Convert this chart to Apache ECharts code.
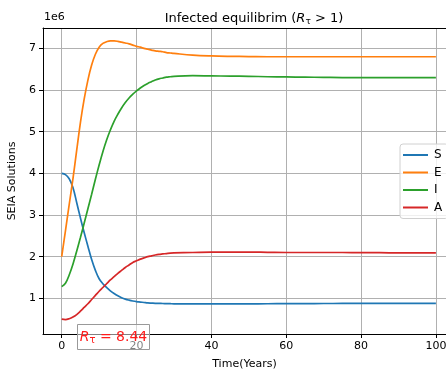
<!DOCTYPE html>
<html>
<head>
<meta charset="utf-8">
<script src="https://cdn.jsdelivr.net/npm/echarts@6/dist/echarts.min.js"></script>
<style>
  html, body { margin: 0; padding: 0; background: #fff; }
  #chart { width: 446px; height: 371px; }
</style>
</head>
<body>
<div id="chart"></div>
<script>
// time in years, values in units of 1e6
const years = [0, 1, 2, 3, 4, 5, 6, 7, 8, 9, 10, 11, 12, 13, 14, 15, 16, 17, 18, 19, 20,
  21, 22, 23, 24, 25, 26, 27, 28, 29, 30, 35, 40, 45, 50, 55, 60, 65, 70, 75, 80, 85, 90, 95, 100]

const sVals = [4.0, 3.97, 3.87, 3.66, 3.3, 2.93, 2.58, 2.25, 1.93, 1.67, 1.47, 1.35, 1.26, 1.18, 1.115,
  1.06, 1.015, 0.98, 0.955, 0.935, 0.92, 0.91, 0.9, 0.89, 0.885, 0.88, 0.878, 0.875, 0.872, 0.87, 0.868,
  0.865, 0.865, 0.866, 0.867, 0.869, 0.871, 0.873, 0.875, 0.876, 0.877, 0.878, 0.878, 0.879, 0.879]
const eVals = [2.0, 2.62, 3.25, 3.87, 4.55, 5.22, 5.78, 6.24, 6.6, 6.86, 7.03, 7.12, 7.16, 7.18, 7.18,
  7.17, 7.15, 7.13, 7.11, 7.08, 7.05, 7.03, 7.0, 6.98, 6.96, 6.94, 6.93, 6.92, 6.9, 6.89, 6.88,
  6.84, 6.82, 6.81, 6.805, 6.8, 6.8, 6.8, 6.8, 6.8, 6.8, 6.8, 6.8, 6.8, 6.8]
const iVals = [1.28, 1.36, 1.56, 1.82, 2.13, 2.46, 2.8, 3.15, 3.5, 3.86, 4.2, 4.52, 4.8, 5.04, 5.25,
  5.42, 5.57, 5.7, 5.81, 5.9, 5.98, 6.05, 6.11, 6.16, 6.2, 6.24, 6.27, 6.29, 6.31, 6.32, 6.33,
  6.345, 6.34, 6.335, 6.33, 6.32, 6.315, 6.31, 6.305, 6.3, 6.3, 6.3, 6.3, 6.3, 6.3]
const aVals = [0.5, 0.49, 0.51, 0.55, 0.61, 0.69, 0.78, 0.87, 0.97, 1.07, 1.17, 1.26, 1.35, 1.44, 1.52,
  1.6, 1.67, 1.74, 1.8, 1.86, 1.9, 1.94, 1.97, 2.0, 2.02, 2.04, 2.055, 2.065, 2.075, 2.085, 2.09,
  2.1, 2.11, 2.11, 2.11, 2.105, 2.1, 2.1, 2.1, 2.1, 2.095, 2.095, 2.09, 2.09, 2.09]

const seriesNames = ['S', 'E', 'I', 'A']
const seriesColors = ['#1f77b4', '#ff7f0e', '#2ca02c', '#d62728']
const xTicks = [0, 20, 40, 60, 80, 100]
const yTicks = [1, 2, 3, 4, 5, 6, 7]

const FONT = 'DejaVu Sans'

const chart = echarts.init(document.getElementById('chart'))

const allVals = [sVals, eVals, iVals, aVals]
const series = allVals.map((vals, k) => ({
  name: seriesNames[k],
  type: 'line',
  data: years.map((t, i) => [t, vals[i]]),
  showSymbol: false,
  smooth: 0.4,
  lineStyle: { color: seriesColors[k], width: 1.7 },
  itemStyle: { color: seriesColors[k] },
  z: 3
}))

// plain axis used only for the top spine
const topSpine = {
  type: 'value',
  position: 'top',
  min: -5,
  max: 102.7,
  axisLine: { show: true, onZero: false, lineStyle: { color: '#000', width: 1 } },
  axisTick: { show: false },
  axisLabel: { show: false },
  splitLine: { show: false }
}

chart.setOption({
  animation: false,
  textStyle: { fontFamily: FONT },
  title: {
    text: 'Infected equilibrim ({i|R}{s|τ} > 1)',
    left: 249,
    textAlign: 'center',
    top: 6,
    textStyle: {
      fontFamily: FONT,
      fontSize: 13,
      fontWeight: 'normal',
      color: '#000',
      rich: {
        i: { fontFamily: FONT, fontSize: 13, fontStyle: 'italic', color: '#000' },
        s: { fontFamily: FONT, fontSize: 9, color: '#000', padding: [6, 0, 0, 0] }
      }
    }
  },
  grid: {
    left: 43,
    top: 28,
    right: 0,
    bottom: 37,
    outerBoundsMode: 'none'
  },
  legend: {
    orient: 'vertical',
    left: 400,
    top: 144,
    padding: [4, 6, 4, 3],
    itemGap: 3.5,
    itemWidth: 25,
    itemHeight: 2,
    icon: 'rect',
    backgroundColor: 'rgba(255,255,255,0.8)',
    borderColor: '#d0d0d0',
    borderWidth: 1,
    borderRadius: 3,
    data: seriesNames,
    textStyle: { fontFamily: FONT, fontSize: 12, color: '#000', lineHeight: 14, padding: [0, 0, 0, 1] }
  },
  xAxis: [{
    type: 'value',
    min: -5,
    max: 102.7,
    name: 'Time(Years)',
    nameLocation: 'middle',
    nameGap: 25,
    nameTextStyle: { fontFamily: FONT, fontSize: 11, color: '#000' },
    axisLine: { show: true, onZero: false, lineStyle: { color: '#000', width: 1 } },
    axisTick: { show: true, length: 4, lineStyle: { color: '#000' }, customValues: xTicks },
    axisLabel: { customValues: xTicks, color: '#000', fontSize: 11, margin: 7, fontFamily: FONT },
    splitLine: { show: true, lineStyle: { color: '#b0b0b0', width: 1 } }
  }, topSpine],
  yAxis: {
    type: 'value',
    min: 0.143,
    max: 7.49,
    name: 'SEIA Solutions',
    nameLocation: 'middle',
    nameGap: 24,
    nameRotate: 90,
    nameTextStyle: { fontFamily: FONT, fontSize: 11, color: '#000' },
    axisLine: { show: true, onZero: false, lineStyle: { color: '#000', width: 1 } },
    axisTick: { show: true, length: 4, lineStyle: { color: '#000' }, customValues: yTicks },
    axisLabel: { customValues: yTicks, color: '#000', fontSize: 11, margin: 7, fontFamily: FONT },
    splitLine: { show: true, lineStyle: { color: '#b0b0b0', width: 1 } }
  },
  graphic: [
    {
      type: 'text',
      left: 44,
      top: 12,
      style: { text: '1e6', fontFamily: FONT, fontSize: 11, fill: '#000' }
    },
    {
      type: 'rect',
      shape: { x: 77.5, y: 324.5, width: 72, height: 25 },
      style: { fill: 'rgba(255,255,255,0.5)', stroke: '#999', lineWidth: 1 },
      z: 100
    },
    {
      type: 'text',
      x: 113.5,
      y: 337,
      z: 101,
      style: {
        text: '{i|R}{s|τ}{n| = 8.44}',
        align: 'center',
        verticalAlign: 'middle',
        fill: '#ff1a1a',
        rich: {
          i: { fontFamily: FONT, fontSize: 14, fontStyle: 'italic', fill: '#ff1a1a' },
          s: { fontFamily: FONT, fontSize: 10, fill: '#ff1a1a', padding: [6, 0, 0, 0] },
          n: { fontFamily: FONT, fontSize: 14, fill: '#ff1a1a' }
        }
      }
    }
  ],
  series: series
})
</script>
</body>
</html>
